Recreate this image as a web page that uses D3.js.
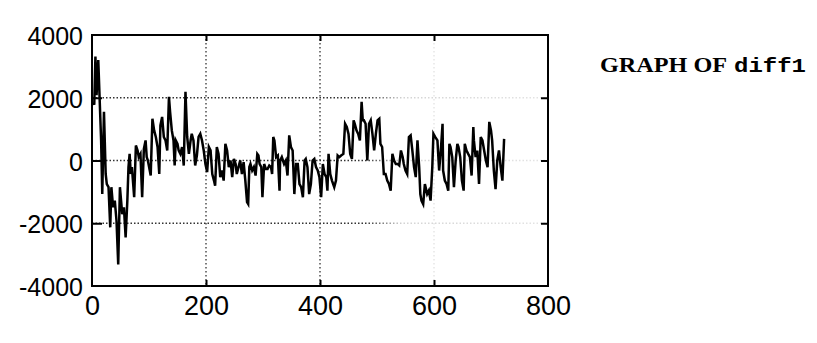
<!DOCTYPE html>
<html>
<head>
<meta charset="utf-8">
<script src="https://cdn.jsdelivr.net/npm/d3@7"></script>
<style>
  body { margin: 0; background: #fff; }
</style>
</head>
<body>
<div id="chart"></div>
<script>
const t = [
  1, 4, 6, 8, 11, 16, 18, 21, 24, 26, 29, 32, 34, 37, 40, 43, 46, 49, 53, 56,
  59, 62, 64, 66, 68, 70, 74, 77, 80, 82, 85, 88, 91, 94, 96, 98, 103, 106, 109, 112,
  115, 118, 120, 123, 126, 129, 132, 135, 137, 140, 143, 145, 147, 150, 152, 155, 158, 161, 164, 167,
  170, 173, 175, 178, 181, 184, 187, 190, 193, 196, 199, 202, 205, 208, 211, 214, 216, 219, 222, 225,
  228, 231, 234, 237, 240, 243, 246, 249, 252, 254, 257, 260, 263, 266, 269, 272, 274, 276, 278, 281,
  284, 287, 290, 292, 294, 297, 299, 302, 305, 308, 311, 314, 316, 318, 320, 323, 326, 329, 330, 333,
  337, 340, 343, 346, 349, 352, 355, 358, 361, 364, 367, 370, 373, 375, 378, 381, 384, 387, 390, 393,
  396, 399, 402, 405, 408, 411, 413, 415, 418, 421, 425, 428, 431, 434, 437, 441, 444, 447, 450, 453,
  456, 459, 461, 464, 467, 470, 473, 475, 477, 480, 483, 486, 489, 492, 495, 498, 501, 504, 506, 509,
  512, 515, 518, 521, 524, 527, 530, 533, 536, 539, 542, 545, 547, 550, 553, 556, 559, 562, 565, 568,
  571, 574, 576, 578, 581, 584, 588, 591, 594, 597, 599, 602, 606, 609, 612, 615, 616, 619, 622, 625,
  627, 629, 632, 635, 638, 641, 643, 646, 649, 652, 654, 657, 660, 663, 666, 669, 670, 673, 676, 679,
  682, 685, 688, 691, 694, 697, 700, 702, 705, 708, 711, 714, 717, 720, 723
];
const diff1 = [
  1800, 1810, 3310, 2080, 3200, 640, -1070, 1550, -430, -750, -850, -2130, -850, -1490, -1280, -1920, -3310, -850, -1710, -1490,
  -2450, -1280, -210, 210, -430, -210, -1170, 480, 320, 110, 210, -1170, 370, 640, 110, 0, -480, 1330, 960, 750,
  430, -430, 1120, 1390, 750, 640, 320, 2030, 1550, 960, 640, -160, 640, 530, 320, 210, 430, -160, 2190, 750,
  210, 640, 850, 640, -160, 160, 750, 850, 640, 320, -110, -370, 430, 320, -430, -640, -800, 430, 210, -530,
  -320, -640, 530, 320, -210, 0, -530, 50, -110, -430, -210, 0, -430, -50, -640, -1330, -1390, -210, -110, -320,
  -210, -480, 210, 160, -110, -210, -1170, -110, -270, -270, -160, -210, -430, 750, 640, 110, 160, -960, 0, 110,
  -110, 0, -480, 800, 430, 320, -1070, -110, -110, -750, -850, -1170, 0, 50, -210, -1070, -750, 0, 50, -210,
  -320, -530, -1170, -110, -430, -530, -960, 210, -430, -640, -850, -640, 160, 110, 160, 210, 1170, 1070, 850, 210,
  50, 1280, 1170, 960, 850, 640, 1870, 1280, 1280, 1170, 0, 1170, 1280, 850, 320, 850, 1280, 1330, 530, 430,
  -430, -430, -640, -750, -960, 210, 0, -110, -110, -160, 320, 110, -110, -320, -430, 750, 800, 320, -210, -530,
  640, -210, -1070, -1280, -1390, -750, -1070, -960, -1280, -210, 850, 750, 640, -320, 320, 1170, -320, -640, -750, -960,
  530, 430, 110, -850, 0, 530, 430, 110, -640, -960, 530, 320, 210, 110, -480, 1070, 640, 110, 320, -750,
  750, 640, 320, 0, -210, 1230, 960, 640, -320, -910, 0, 320, -210, -640, 690
];

const xTicks = [0, 200, 400, 600, 800];
const yTicks = [-4000, -2000, 0, 2000, 4000];
const xInner = [200, 400, 600];
const yInner = [-2000, 0, 2000];
const title = 'GRAPH OF';
const seriesName = 'diff1';

const width = 817;
const height = 343;
const margin = { top: 35, right: 269, bottom: 57, left: 92 };
const plotW = width - margin.left - margin.right;
const plotH = height - margin.top - margin.bottom;

const svg = d3.select('#chart')
  .append('svg')
  .attr('width', width)
  .attr('height', height);

const defs = svg.append('defs');
// the scan lost most of the grid dots on the right hand side
const fade = defs.append('linearGradient')
  .attr('id', 'gridFade')
  .attr('gradientUnits', 'userSpaceOnUse')
  .attr('x1', 0).attr('x2', plotW).attr('y1', 0).attr('y2', 0);
fade.append('stop').attr('offset', 0).attr('stop-color', '#333');
fade.append('stop').attr('offset', 0.6).attr('stop-color', '#333');
fade.append('stop').attr('offset', 0.68).attr('stop-color', '#d4d4d4');
fade.append('stop').attr('offset', 1).attr('stop-color', '#e4e4e4');

const g = svg.append('g').attr('transform', `translate(${margin.left},${margin.top})`);

const x = d3.scaleLinear().domain([0, 800]).range([0, plotW]);
const y = d3.scaleLinear().domain([-4000, 4000]).range([plotH, 0]);

// dotted grid
g.append('g')
  .selectAll('line')
  .data(yInner)
  .join('line')
  .attr('x1', 0).attr('x2', plotW)
  .attr('y1', d => y(d)).attr('y2', d => y(d))
  .attr('stroke', 'url(#gridFade)')
  .attr('stroke-width', 1.3)
  .attr('stroke-dasharray', '1.5,2');

g.append('g')
  .selectAll('line')
  .data(xInner)
  .join('line')
  .attr('x1', d => x(d)).attr('x2', d => x(d))
  .attr('y1', 0).attr('y2', plotH)
  .attr('stroke', d => (d < 600 ? '#333' : '#e2e2e2'))
  .attr('stroke-width', 1.3)
  .attr('stroke-dasharray', '1.5,2.5');

// axes: labels from d3 axes, inward ticks on all four sides
const tickFont = '"Liberation Sans", Arial, sans-serif';
const plain = d => String(d); // no thousands comma, ascii hyphen

const yAxis = g.append('g')
  .call(d3.axisLeft(y).tickValues(yTicks).tickFormat(plain).tickSize(0).tickPadding(9));
yAxis.select('.domain').remove();
yAxis.selectAll('text')
  .attr('font-family', tickFont)
  .attr('font-size', 25)
  .attr('fill', '#000')
  .attr('dy', '0.38em');

const xAxis = g.append('g')
  .attr('transform', `translate(0,${plotH})`)
  .call(d3.axisBottom(x).tickValues(xTicks).tickFormat(plain).tickSize(0).tickPadding(10));
xAxis.select('.domain').remove();
xAxis.selectAll('text')
  .attr('font-family', tickFont)
  .attr('font-size', 27)
  .attr('fill', '#000');

g.append('g').call(d3.axisLeft(y).tickValues(yInner).tickSize(-10).tickFormat(''))
  .call(a => a.select('.domain').remove())
  .selectAll('line').attr('stroke', '#000').attr('stroke-width', 2);
g.append('g').attr('transform', `translate(${plotW},0)`)
  .call(d3.axisRight(y).tickValues(yInner).tickSize(-7).tickFormat(''))
  .call(a => a.select('.domain').remove())
  .selectAll('line').attr('stroke', '#000').attr('stroke-width', 2);
g.append('g')
  .call(d3.axisTop(x).tickValues(xInner).tickSize(-6).tickFormat(''))
  .call(a => a.select('.domain').remove())
  .selectAll('line').attr('stroke', '#000').attr('stroke-width', 2);
g.append('g').attr('transform', `translate(0,${plotH})`)
  .call(d3.axisBottom(x).tickValues(xInner).tickSize(-6).tickFormat(''))
  .call(a => a.select('.domain').remove())
  .selectAll('line').attr('stroke', '#000').attr('stroke-width', 2);

// frame
g.append('rect')
  .attr('x', 0).attr('y', 0)
  .attr('width', plotW).attr('height', plotH)
  .attr('fill', 'none')
  .attr('stroke', '#000')
  .attr('stroke-width', 2);

// series
const points = t.map((d, i) => ({ t: d, v: diff1[i] }));
const line = d3.line().x(d => x(d.t)).y(d => y(d.v));

g.append('path')
  .datum(points)
  .attr('fill', 'none')
  .attr('stroke', '#000')
  .attr('stroke-width', 2.5)
  .attr('stroke-linejoin', 'miter')
  .attr('d', line);

// caption to the right of the plot
svg.append('text')
  .attr('x', 600)
  .attr('y', 72)
  .attr('font-family', '"Liberation Serif", "Times New Roman", serif')
  .attr('font-weight', 'bold')
  .attr('font-size', 21)
  .attr('textLength', 127)
  .attr('lengthAdjust', 'spacingAndGlyphs')
  .text(title);

svg.append('text')
  .attr('x', 734)
  .attr('y', 72)
  .attr('font-family', '"Liberation Mono", "Courier New", monospace')
  .attr('font-weight', 'bold')
  .attr('font-size', 21)
  .attr('textLength', 72)
  .attr('lengthAdjust', 'spacingAndGlyphs')
  .text(seriesName);
</script>
</body>
</html>
